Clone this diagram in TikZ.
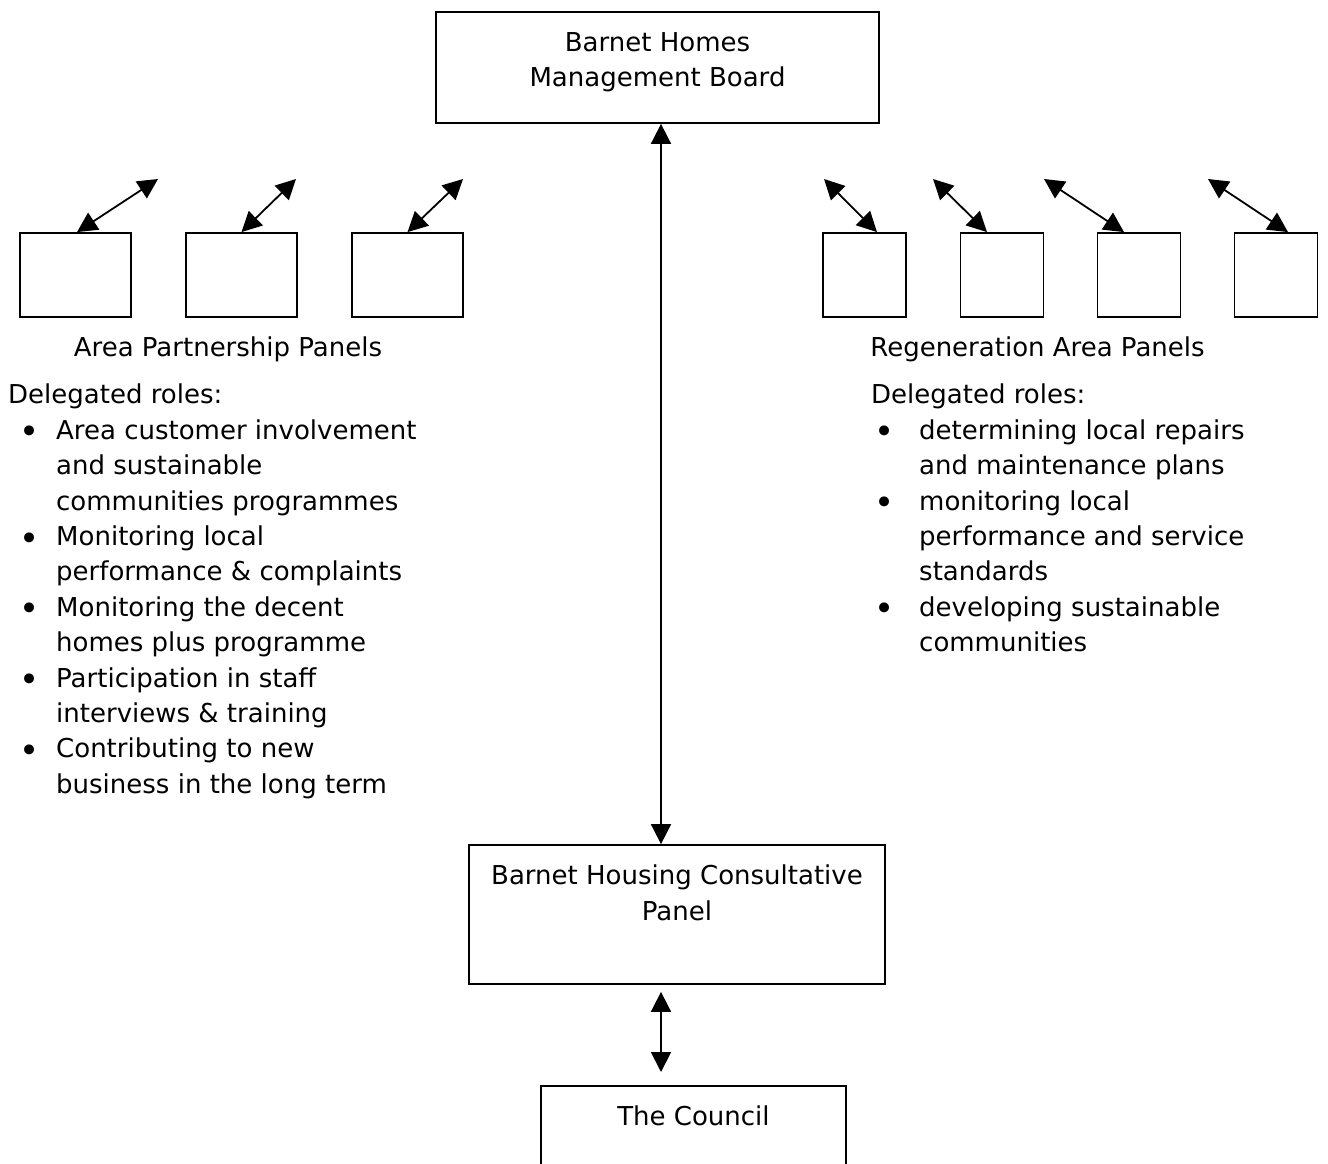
\documentclass[tikz,border=0pt]{standalone}
\usepackage{fontspec}
\setmainfont{DejaVu Sans}
\usetikzlibrary{arrows.meta, positioning}

% bullet line and continuation line of the role lists
\newcommand{\itm}[2][11pt]{\makebox[48pt][l]{\hspace*{#1}\raisebox{-4.5pt}{\fontsize{34}{0}\selectfont\textbullet}}#2}
\newcommand{\cnt}[1]{\hspace*{48pt}#1}

\begin{document}
\begin{tikzpicture}[
    x=1pt, y=-1pt,
    font=\fontsize{26}{35.4}\selectfont,
    box/.style={rectangle, draw, line width=1.8pt, inner sep=0pt, align=center},
    panel/.style={box, minimum width=111pt, minimum height=84pt},
    regpanel/.style={box, minimum width=83pt, minimum height=84pt},
    link/.style={{Triangle[length=20pt,width=20pt]}-{Triangle[length=20pt,width=20pt]}, line width=1.8pt},
    roles/.style={align=left, anchor=north west, inner sep=0pt}
]
\useasboundingbox (0,0) rectangle (1328,1164);

% Main boxes
\node[box, minimum width=443pt, minimum height=111pt] (board) at (657.5,67.5) {Barnet Homes\\Management Board\\[-20pt]\mbox{}};
\node[box, minimum width=416pt, minimum height=139pt] (bhcp) at (677,914.5) {Barnet Housing Consultative\\Panel\\[8pt] };
\node[box, anchor=north, minimum width=305pt, inner ysep=20pt] (council) at (693.5,1085) {The Council\\ \\ };

% Area partnership panels
\node[panel] (ap1) at (75.5,275) {};
\node[panel] (ap2) at (241.5,275) {};
\node[panel] (ap3) at (407.5,275) {};
\coordinate (apt1) at (158,179);
\coordinate (apt2) at (296,179);
\coordinate (apt3) at (463,179);

% Regeneration area panels
\node[regpanel] (rp1) at (864.5,275) {};
\node[regpanel] (rp2) at (1002,275) {};
\node[regpanel] (rp3) at (1139,275) {};
\node[regpanel] (rp4) at (1276,275) {};
\coordinate (rpt1) at (824,179);
\coordinate (rpt2) at (933,179);
\coordinate (rpt3) at (1044,179);
\coordinate (rpt4) at (1208,179);

% Titles and delegated roles
\node[anchor=base] (aptitle) at (228,356) {Area Partnership Panels};
\node[anchor=base] (rptitle) at (1037.5,356) {Regeneration Area Panels};

\node[roles] (aproles) at (8,384) {Delegated roles:\\
\itm{Area customer involvement}\\
\cnt{and sustainable}\\
\cnt{communities programmes}\\
\itm{Monitoring local}\\
\cnt{performance \& complaints}\\
\itm{Monitoring the decent}\\
\cnt{homes plus programme}\\
\itm{Participation in staff}\\
\cnt{interviews \& training}\\
\itm{Contributing to new}\\
\cnt{business in the long term}};

\node[roles] (rproles) at (871,384) {Delegated roles:\\
\itm[3pt]{determining local repairs}\\
\cnt{and maintenance plans}\\
\itm[3pt]{monitoring local}\\
\cnt{performance and service}\\
\cnt{standards}\\
\itm[3pt]{developing sustainable}\\
\cnt{communities}};

% Arrows
\draw[link] ([xshift=1.5pt]ap1.north) -- (apt1);
\draw[link] (ap2.north) -- (apt2);
\draw[link] (ap3.north) -- (apt3);
\draw[link] ([xshift=12.5pt]rp1.north) -- (rpt1);
\draw[link] ([xshift=-15pt]rp2.north) -- (rpt2);
\draw[link] ([xshift=-15pt]rp3.north) -- (rpt3);
\draw[link] ([xshift=12pt]rp4.north) -- (rpt4);
\draw[link] ([xshift=3.5pt]board.south) -- ([xshift=-16pt]bhcp.north);
\draw[link, shorten <=7pt, shorten >=13pt] ([xshift=-16pt]bhcp.south) -- ([xshift=-32.5pt]council.north);

\end{tikzpicture}
\end{document}
